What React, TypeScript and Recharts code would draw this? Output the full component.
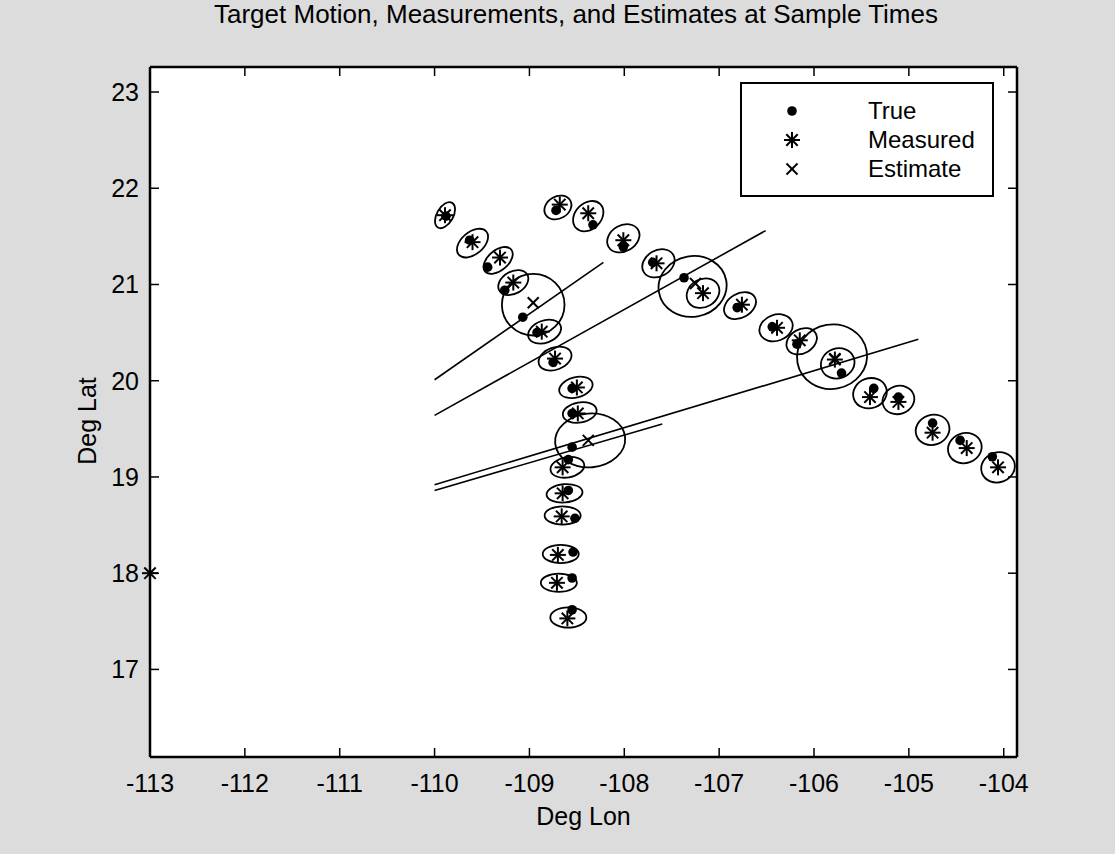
import React from "react";
import { ComposedChart, XAxis, YAxis, Scatter, Line, Legend, CartesianGrid } from "recharts";

const FONT = "'Liberation Sans', Arial, Helvetica, sans-serif";

// axis ticks
const lonTicks = [-113, -112, -111, -110, -109, -108, -107, -106, -105, -104];
const latTicks = [17, 18, 19, 20, 21, 22, 23];

// true target positions at the sample times (deg lon / deg lat)
const trueLon = [
  -109.88, -109.63, -109.44, -109.26, -109.07, -108.92, -108.75, -108.55, -108.55, -108.55,
  -108.59, -108.59, -108.52, -108.54, -108.55, -108.55, -108.72, -108.33, -108.01, -107.7,
  -107.37, -106.81, -106.44, -106.18, -105.71, -105.37, -105.11, -104.75, -104.46, -104.12,
];
const trueLat = [
  21.71, 21.46, 21.18, 20.94, 20.66, 20.5, 20.19, 19.92, 19.66, 19.31,
  19.18, 18.86, 18.57, 18.22, 17.95, 17.62, 21.77, 21.62, 21.39, 21.23,
  21.07, 20.76, 20.56, 20.38, 20.08, 19.92, 19.83, 19.56, 19.38, 19.21,
];

// sensor measurements
const measLon = [
  -109.89, -109.6, -109.31, -109.17, -108.87, -108.73, -108.5, -108.49, -108.65, -108.65,
  -108.66, -108.7, -108.71, -108.6, -108.68, -108.38, -108.01, -107.66, -107.17, -106.76,
  -106.39, -106.15, -105.78, -105.41, -105.11, -104.75, -104.39, -104.06, -113.0,
];
const measLat = [
  21.72, 21.44, 21.28, 21.02, 20.51, 20.23, 19.93, 19.66, 19.1, 18.83,
  18.59, 18.19, 17.9, 17.53, 21.83, 21.74, 21.46, 21.22, 20.91, 20.79,
  20.55, 20.42, 20.22, 19.83, 19.78, 19.46, 19.3, 19.1, 18.0,
];

// filter estimates
const estLon = [-108.96, -108.38, -107.25, -105.78];
const estLat = [20.81, 19.38, 21.01, 20.23];

// error ellipses: centre, semi-axes (deg) and tilt (deg)
const ellLon = [
  -109.89, -109.6, -109.33, -109.17, -108.96, -108.84, -108.73, -108.51, -108.47, -108.36,
  -108.6, -108.63, -108.65, -108.67, -108.69, -108.59, -108.7, -108.38, -108.01, -107.64,
  -107.28, -107.17, -106.78, -106.4, -106.13, -105.81, -105.75, -105.41, -105.11, -104.75,
  -104.41, -104.06,
];
const ellLat = [
  21.72, 21.43, 21.25, 21.02, 20.79, 20.51, 20.23, 19.93, 19.67, 19.38,
  19.1, 18.83, 18.6, 18.2, 17.9, 17.54, 21.8, 21.71, 21.48, 21.22,
  20.98, 20.91, 20.78, 20.55, 20.41, 20.25, 20.18, 19.87, 19.8, 19.49,
  19.3, 19.1,
];
const ellA = [
  0.15, 0.19, 0.18, 0.17, 0.33, 0.18, 0.18, 0.18, 0.18, 0.37,
  0.18, 0.19, 0.19, 0.19, 0.19, 0.19, 0.15, 0.18, 0.18, 0.18,
  0.36, 0.18, 0.18, 0.18, 0.17, 0.37, 0.18, 0.18, 0.17, 0.18,
  0.18, 0.18,
];
const ellB = [
  0.085, 0.115, 0.105, 0.115, 0.32, 0.115, 0.115, 0.105, 0.105, 0.28,
  0.105, 0.095, 0.095, 0.095, 0.095, 0.105, 0.115, 0.135, 0.135, 0.135,
  0.315, 0.145, 0.125, 0.135, 0.125, 0.335, 0.155, 0.155, 0.145, 0.155,
  0.155, 0.155,
];
const ellTilt = [
  -60, -40, -40, -30, 0, -20, -20, -15, -10, -5,
  -10, -5, 0, 0, 0, 0, -30, -45, -30, -30,
  -10, -30, -30, -20, -30, -10, -20, -20, -20, -20,
  -20, -20,
];

// straight track lines, start and end points
const lineFromLon = [-110, -110, -110, -110];
const lineFromLat = [20.01, 19.64, 18.92, 18.86];
const lineToLon = [-108.22, -106.51, -104.9, -107.6];
const lineToLat = [21.23, 21.56, 20.43, 19.55];

// layout of the figure
const W = 1115;
const H = 854;
const PLOT = { left: 150, top: 67, right: 1017, bottom: 757 };
const LON_DOMAIN: [number, number] = [-113, -103.86];
const LAT_DOMAIN: [number, number] = [16.09, 23.26];
const KX = (PLOT.right - PLOT.left) / (LON_DOMAIN[1] - LON_DOMAIN[0]);
const KY = (PLOT.bottom - PLOT.top) / (LAT_DOMAIN[1] - LAT_DOMAIN[0]);

const trueData = trueLon.map((lon, i) => ({ lon, lat: trueLat[i] }));
const measData = measLon.map((lon, i) => ({ lon, lat: measLat[i] }));
const estData = estLon.map((lon, i) => ({ lon, lat: estLat[i] }));
const ellData = ellLon.map((lon, i) => ({ lon, lat: ellLat[i], a: ellA[i], b: ellB[i], tilt: ellTilt[i] }));
const lines = lineFromLon.map((lon, i) => [
  { lon, lat: lineFromLat[i] },
  { lon: lineToLon[i], lat: lineToLat[i] },
]);

const axisStroke = { stroke: "#000", strokeWidth: 2.5 };
const tickStroke = { stroke: "#000", strokeWidth: 1.5 };
const tickFont = { fill: "#000", fontSize: 25, fontFamily: FONT };

function TrueDot({ cx, cy }: any) {
  if (cx == null || cy == null) return null;
  return <circle cx={cx} cy={cy} r={4.8} fill="#000" />;
}

function Star({ cx, cy }: any) {
  if (cx == null || cy == null) return null;
  const s = 8;
  const d = 5.7;
  return (
    <g stroke="#000" strokeWidth={2}>
      <line x1={cx - s} y1={cy} x2={cx + s} y2={cy} />
      <line x1={cx} y1={cy - s} x2={cx} y2={cy + s} />
      <line x1={cx - d} y1={cy - d} x2={cx + d} y2={cy + d} />
      <line x1={cx - d} y1={cy + d} x2={cx + d} y2={cy - d} />
    </g>
  );
}

function Cross({ cx, cy }: any) {
  if (cx == null || cy == null) return null;
  const d = 5.5;
  return (
    <g stroke="#000" strokeWidth={2}>
      <line x1={cx - d} y1={cy - d} x2={cx + d} y2={cy + d} />
      <line x1={cx - d} y1={cy + d} x2={cx + d} y2={cy - d} />
    </g>
  );
}

function Ellipse({ cx, cy, payload }: any) {
  if (cx == null || cy == null || !payload) return null;
  return (
    <ellipse
      cx={cx}
      cy={cy}
      rx={payload.a * KX}
      ry={payload.b * KY}
      transform={`rotate(${payload.tilt} ${cx} ${cy})`}
      fill="none"
      stroke="#000"
      strokeWidth={1.8}
    />
  );
}

const Hidden = () => null;
const NoLabel = () => <g />;

const legendRows = [
  { label: "True", Mark: TrueDot },
  { label: "Measured", Mark: Star },
  { label: "Estimate", Mark: Cross },
];

function LegendBox() {
  return (
    <div
      style={{
        width: 254,
        height: 115,
        boxSizing: "border-box",
        border: "2px solid #000",
        background: "#fff",
        position: "relative",
        fontFamily: FONT,
        fontSize: 24,
        color: "#000",
      }}
    >
      <svg width={250} height={111} style={{ position: "absolute", left: 0, top: 0 }}>
        {legendRows.map((r, i) => (
          <r.Mark key={r.label} cx={50} cy={27 + i * 29} />
        ))}
      </svg>
      {legendRows.map((r, i) => (
        <div
          key={r.label}
          style={{ position: "absolute", left: 126, top: 27 + i * 29 - 14, height: 28, lineHeight: "28px" }}
        >
          {r.label}
        </div>
      ))}
    </div>
  );
}

export default function App() {
  return (
    <div style={{ position: "fixed", left: 0, top: 0, width: W, height: H, background: "#dcdcdc", overflow: "hidden" }}>
      <div
        style={{
          position: "absolute",
          left: 0,
          top: 1,
          width: 1152,
          textAlign: "center",
          fontFamily: FONT,
          fontSize: 26,
          lineHeight: "26px",
          color: "#000",
        }}
      >
        Target Motion, Measurements, and Estimates at Sample Times
      </div>
      <div style={{ position: "absolute", left: 0, top: 0 }}>
        <ComposedChart
          width={W}
          height={H}
          margin={{ left: PLOT.left - 80, right: W - PLOT.right - 1, top: PLOT.top - 1, bottom: H - PLOT.bottom - 70 }}
        >
          <CartesianGrid fill="#fff" stroke="none" horizontal={false} vertical={false} />
          <XAxis
            dataKey="lon"
            type="number"
            domain={LON_DOMAIN}
            ticks={lonTicks}
            height={70}
            tickSize={-9}
            tickMargin={26}
            tick={tickFont}
            axisLine={axisStroke}
            tickLine={tickStroke}
            label={{
              content: (p: any) => {
                const vb = p.viewBox || {};
                return (
                  <text x={vb.x + vb.width / 2} y={vb.y + vb.height - 2} textAnchor="middle" fontSize={25} fontFamily={FONT} fill="#000">
                    Deg Lon
                  </text>
                );
              },
            }}
          />
          <XAxis
            xAxisId="top"
            dataKey="lon"
            orientation="top"
            type="number"
            domain={LON_DOMAIN}
            ticks={lonTicks}
            height={1}
            tickSize={-9}
            tick={NoLabel}
            axisLine={axisStroke}
            tickLine={tickStroke}
          />
          <YAxis
            dataKey="lat"
            type="number"
            domain={LAT_DOMAIN}
            ticks={latTicks}
            width={80}
            tickSize={-9}
            tickMargin={20}
            tick={tickFont}
            axisLine={axisStroke}
            tickLine={tickStroke}
            label={{
              content: (p: any) => {
                const vb = p.viewBox || {};
                const x = vb.x + 17;
                const y = vb.y + vb.height / 2 + 9;
                return (
                  <text
                    x={x}
                    y={y}
                    transform={`rotate(-90 ${x} ${y})`}
                    textAnchor="middle"
                    dominantBaseline="central"
                    fontSize={25}
                    fontFamily={FONT}
                    fill="#000"
                  >
                    Deg Lat
                  </text>
                );
              },
            }}
          />
          <YAxis
            yAxisId="right"
            dataKey="lat"
            orientation="right"
            type="number"
            domain={LAT_DOMAIN}
            ticks={latTicks}
            width={1}
            tickSize={-9}
            tick={NoLabel}
            axisLine={axisStroke}
            tickLine={tickStroke}
          />
          {/* binds the top and right frame axes so they get drawn */}
          <Scatter
            data={estData}
            xAxisId="top"
            yAxisId="right"
            shape={Hidden}
            isAnimationActive={false}
            legendType="none"
          />
          <Scatter data={ellData} shape={Ellipse} isAnimationActive={false} legendType="none" />
          {lines.map((d, i) => (
            <Line
              key={i}
              data={d}
              dataKey="lat"
              type="linear"
              stroke="#000"
              strokeWidth={1.6}
              dot={false}
              activeDot={false}
              isAnimationActive={false}
              legendType="none"
            />
          ))}
          <Scatter data={trueData} shape={TrueDot} isAnimationActive={false} name="True" />
          <Scatter data={measData} shape={Star} isAnimationActive={false} name="Measured" />
          <Scatter data={estData} shape={Cross} isAnimationActive={false} name="Estimate" />
          <Legend
            layout="vertical"
            align="center"
            verticalAlign="middle"
            content={() => <LegendBox />}
            wrapperStyle={{ position: "absolute", left: 740, top: 82, width: 254, height: 115 }}
          />
        </ComposedChart>
      </div>
    </div>
  );
}
